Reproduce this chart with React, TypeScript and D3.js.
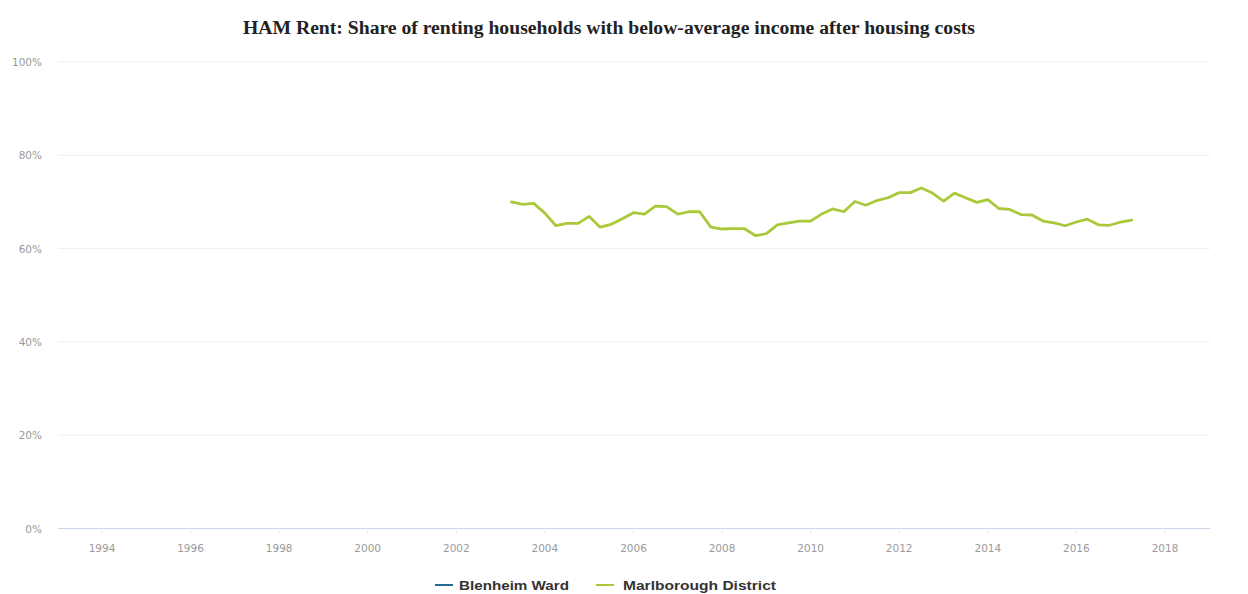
import React from "react";
import * as d3 from "d3";

const TITLE = "HAM Rent: Share of renting households with below-average income after housing costs";

const quarters: string[] = [
  "2003-04", "2003-07", "2003-10",
  "2004-01", "2004-04", "2004-07", "2004-10",
  "2005-01", "2005-04", "2005-07", "2005-10",
  "2006-01", "2006-04", "2006-07", "2006-10",
  "2007-01", "2007-04", "2007-07", "2007-10",
  "2008-01", "2008-04", "2008-07", "2008-10",
  "2009-01", "2009-04", "2009-07", "2009-10",
  "2010-01", "2010-04", "2010-07", "2010-10",
  "2011-01", "2011-04", "2011-07", "2011-10",
  "2012-01", "2012-04", "2012-07", "2012-10",
  "2013-01", "2013-04", "2013-07", "2013-10",
  "2014-01", "2014-04", "2014-07", "2014-10",
  "2015-01", "2015-04", "2015-07", "2015-10",
  "2016-01", "2016-04", "2016-07", "2016-10",
  "2017-01", "2017-04",
];

const marlboroughDistrict: number[] = [
  70.0, 69.5, 69.7, 67.6, 64.9, 65.4, 65.4, 66.9, 64.6, 65.2,
  66.4, 67.7, 67.4, 69.1, 69.0, 67.4, 67.9, 67.9, 64.6, 64.2,
  64.3, 64.3, 62.8, 63.2, 65.1, 65.5, 65.9, 65.9, 67.4, 68.5,
  67.9, 70.1, 69.3, 70.3, 70.9, 72.0, 72.0, 73.0, 71.9, 70.2,
  71.9, 70.9, 69.9, 70.5, 68.6, 68.4, 67.3, 67.2, 65.9, 65.5,
  64.9, 65.7, 66.3, 65.1, 65.0, 65.7, 66.1,
];

const blenheimWard: number[] = [];

const yTicks: number[] = [0, 20, 40, 60, 80, 100];
const xTickYears: number[] = [1994, 1996, 1998, 2000, 2002, 2004, 2006, 2008, 2010, 2012, 2014, 2016, 2018];

const seriesNames = ["Blenheim Ward", "Marlborough District"];
const seriesColors = ["#24698f", "#a9c83a"];

export default function App() {
  const W = 1248;
  const H = 594;
  const parse = d3.timeParse("%Y-%m");
  const dates = quarters.map((q) => parse(q) as Date);

  const x = d3
    .scaleTime()
    .domain([new Date(1994, 0, 1), new Date(2018, 0, 1)])
    .range([102, 1165]);
  const y = d3.scaleLinear().domain([0, 100]).range([528.5, 62]);

  const plotLeft = 58;
  const plotRight = 1210;

  const line = d3
    .line<number>()
    .x((_, i) => x(dates[i]))
    .y((d) => y(d));

  const marlPath = line(marlboroughDistrict) || "";
  const blenPath = blenheimWard.length ? line(blenheimWard) || "" : "";

  const axisFont = "'DejaVu Sans', sans-serif";

  return (
    <svg
      width={W}
      height={H}
      style={{ position: "absolute", left: 0, top: 0, background: "#fff" }}
    >
      <rect x={0} y={0} width={W} height={H} fill="#ffffff" />
      <text
        x={609}
        y={34}
        textAnchor="middle"
        fontFamily="'Liberation Serif', 'Times New Roman', serif"
        fontWeight="bold"
        fontSize={18}
        fill="#222"
        textLength={732}
        lengthAdjust="spacingAndGlyphs"
      >
        {TITLE}
      </text>

      {yTicks.map((t) => (
        <g key={t}>
          {t !== 0 && (
            <line x1={plotLeft} x2={plotRight} y1={y(t)} y2={y(t)} stroke="#eeeeee" strokeWidth={1} />
          )}
          <text
            x={42}
            y={y(t) + 4}
            textAnchor="end"
            fontFamily={axisFont}
            fontSize={10.5}
            fill="#9a9a9a"
          >
            {t + "%"}
          </text>
        </g>
      ))}

      <line x1={plotLeft} x2={plotRight} y1={y(0)} y2={y(0)} stroke="#ccd6eb" strokeWidth={1} />

      {xTickYears.map((yr) => {
        const px = x(new Date(yr, 0, 1));
        return (
          <g key={yr}>
            <line x1={px} x2={px} y1={y(0)} y2={y(0) + 5} stroke="#e3e8f0" strokeWidth={1} />
            <text
              x={px}
              y={552}
              textAnchor="middle"
              fontFamily={axisFont}
              fontSize={10.5}
              fill="#9a9a9a"
            >
              {yr}
            </text>
          </g>
        );
      })}

      {blenPath && (
        <path d={blenPath} fill="none" stroke={seriesColors[0]} strokeWidth={2.5} />
      )}
      <path
        d={marlPath}
        fill="none"
        stroke={seriesColors[1]}
        strokeWidth={2.8}
        strokeLinejoin="round"
        strokeLinecap="round"
      />

      <g>
        <line x1={435} x2={453} y1={585} y2={585} stroke={seriesColors[0]} strokeWidth={2} />
        <text
          x={459}
          y={590}
          fontFamily="'Liberation Sans', Arial, sans-serif"
          fontWeight="bold"
          fontSize={13}
          fill="#333"
          textLength={110}
          lengthAdjust="spacingAndGlyphs"
        >
          {seriesNames[0]}
        </text>
        <line x1={596} x2={614} y1={585} y2={585} stroke={seriesColors[1]} strokeWidth={2} />
        <text
          x={623}
          y={590}
          fontFamily="'Liberation Sans', Arial, sans-serif"
          fontWeight="bold"
          fontSize={13}
          fill="#333"
          textLength={153}
          lengthAdjust="spacingAndGlyphs"
        >
          {seriesNames[1]}
        </text>
      </g>
    </svg>
  );
}
